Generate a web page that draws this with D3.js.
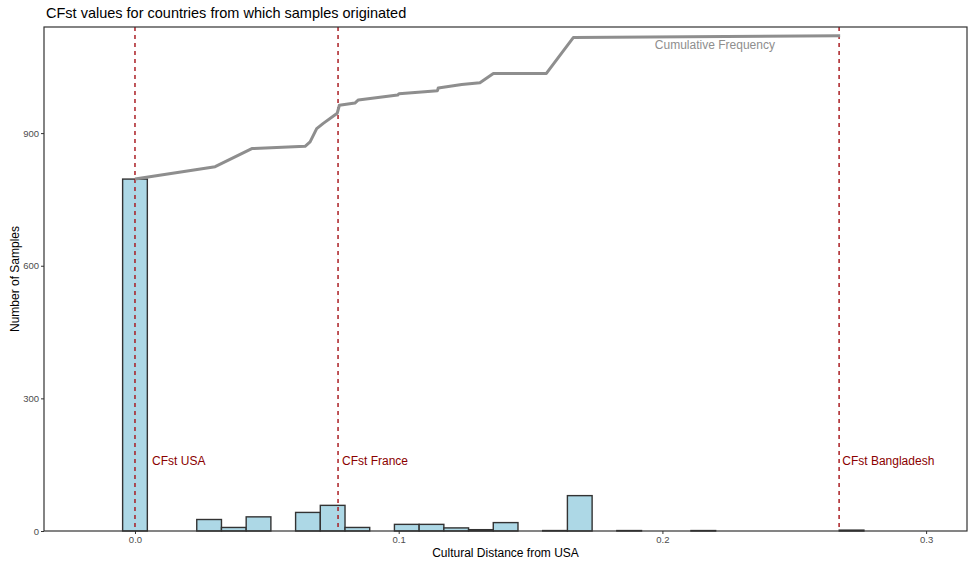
<!DOCTYPE html>
<html><head><meta charset="utf-8">
<script src="https://cdn.jsdelivr.net/npm/d3@7"></script>
<style>
body{margin:0;background:#fff;}
text{font-family:"Liberation Sans",Arial,Helvetica,sans-serif;}
</style></head>
<body>
<svg id="chart" width="968" height="565"></svg>
<script>
// ---- data ----
const binWidth = 0.00937;
const binStartIndex = -1;           // first bin centred at binStartIndex*binWidth
const binCounts = [0, 796, 0, 0, 26, 8, 32, 0, 42, 58, 8, 0, 15, 15, 7, 3, 19, 0, 1, 80, 0, 1, 0, 0, 1, 0, 0, 0, 0, 0, 2, 0, 0];
const cumX = [0, 0.0304, 0.0443, 0.0645, 0.0664, 0.0689, 0.0714, 0.0767, 0.0775, 0.0834, 0.0847, 0.0996, 0.1001, 0.1147, 0.115, 0.1239, 0.1308, 0.1359, 0.156, 0.1662, 0.2674];
const cumY = [796, 824, 865, 870, 880, 910, 922, 945, 963, 968, 975, 986, 989, 996, 1002, 1010, 1014, 1035, 1035, 1116, 1120];
const refNames = ["CFst USA", "CFst France", "CFst Bangladesh"];
const refValues = [0, 0.077, 0.267];
const refLabelX = [0.0065, 0.0785, 0.2682];
const refLabelY = 158;
const cumLabel = {text: "Cumulative Frequency", x: 0.2199, y: 1099};
const xTicks = [0, 0.1, 0.2, 0.3];
const yTicks = [0, 300, 600, 900];
const title = "CFst values for countries from which samples originated";
const xTitle = "Cultural Distance from USA";
const yTitle = "Number of Samples";

// ---- layout ----
const svg = d3.select("#chart");
const L = 44, R = 967, T = 27, B = 531;
const x = d3.scaleLinear().domain([-0.0345, 0.3155]).range([L, R]);
const y = d3.scaleLinear().domain([0, 1140]).range([B, T]);

const bins = binCounts.map((c, i) => {
  const ctr = (binStartIndex + i) * binWidth;
  return {x0: ctr - binWidth / 2, x1: ctr + binWidth / 2, c};
});

svg.append("text").attr("x", 46).attr("y", 18).attr("font-size", 14.5).attr("fill", "#000").text(title);

// bars
svg.append("g").selectAll("rect").data(bins).join("rect")
  .attr("x", d => x(d.x0)).attr("width", d => x(d.x1) - x(d.x0))
  .attr("y", d => y(d.c)).attr("height", d => y(0) - y(d.c))
  .attr("fill", "#add8e6").attr("stroke", "#333").attr("stroke-width", 1.4);

// reference lines
svg.append("g").selectAll("line").data(refValues).join("line")
  .attr("x1", d => x(d)).attr("x2", d => x(d)).attr("y1", T).attr("y2", B)
  .attr("stroke", "#a50f15").attr("stroke-width", 1.4).attr("stroke-dasharray", "4,4");

// cumulative line
const line = d3.line().x(d => x(d[0])).y(d => y(d[1]));
svg.append("path").datum(cumX.map((v, i) => [v, cumY[i]]))
  .attr("d", line).attr("fill", "none").attr("stroke", "#8e8e8e").attr("stroke-width", 3)
  .attr("stroke-linejoin", "round");

// labels
svg.append("g").selectAll("text").data(refNames).join("text")
  .attr("x", (d, i) => x(refLabelX[i])).attr("y", y(refLabelY)).attr("dy", "0.35em")
  .attr("font-size", 12).attr("fill", "#8b0000").text(d => d);
svg.append("text").attr("x", x(cumLabel.x)).attr("y", y(cumLabel.y)).attr("dy", "0.35em")
  .attr("text-anchor", "middle").attr("font-size", 12).attr("fill", "#8e8e8e").text(cumLabel.text);

// axes
const xAxis = svg.append("g").attr("transform", `translate(0,${B})`)
  .call(d3.axisBottom(x).tickValues(xTicks).tickFormat(d3.format(".1f")).tickSize(3).tickPadding(2));
const yAxis = svg.append("g").attr("transform", `translate(${L},0)`)
  .call(d3.axisLeft(y).tickValues(yTicks).tickSize(3).tickPadding(2));
[xAxis, yAxis].forEach(g => {
  g.select(".domain").remove();
  g.selectAll(".tick line").attr("stroke", "#333");
  g.selectAll(".tick text").attr("fill", "#4d4d4d").attr("font-size", 9.5).style("font-family", '"Liberation Sans",Arial,sans-serif');
});

// panel border
svg.append("rect").attr("x", L).attr("y", T).attr("width", R - L).attr("height", B - T)
  .attr("fill", "none").attr("stroke", "#333").attr("stroke-width", 1.2);

svg.append("text").attr("x", (L + R) / 2).attr("y", 557).attr("text-anchor", "middle")
  .attr("font-size", 12).attr("fill", "#000").text(xTitle);
svg.append("text").attr("transform", `translate(19,${(T + B) / 2}) rotate(-90)`)
  .attr("text-anchor", "middle").attr("font-size", 12).attr("fill", "#000").text(yTitle);
</script>
</body></html>
